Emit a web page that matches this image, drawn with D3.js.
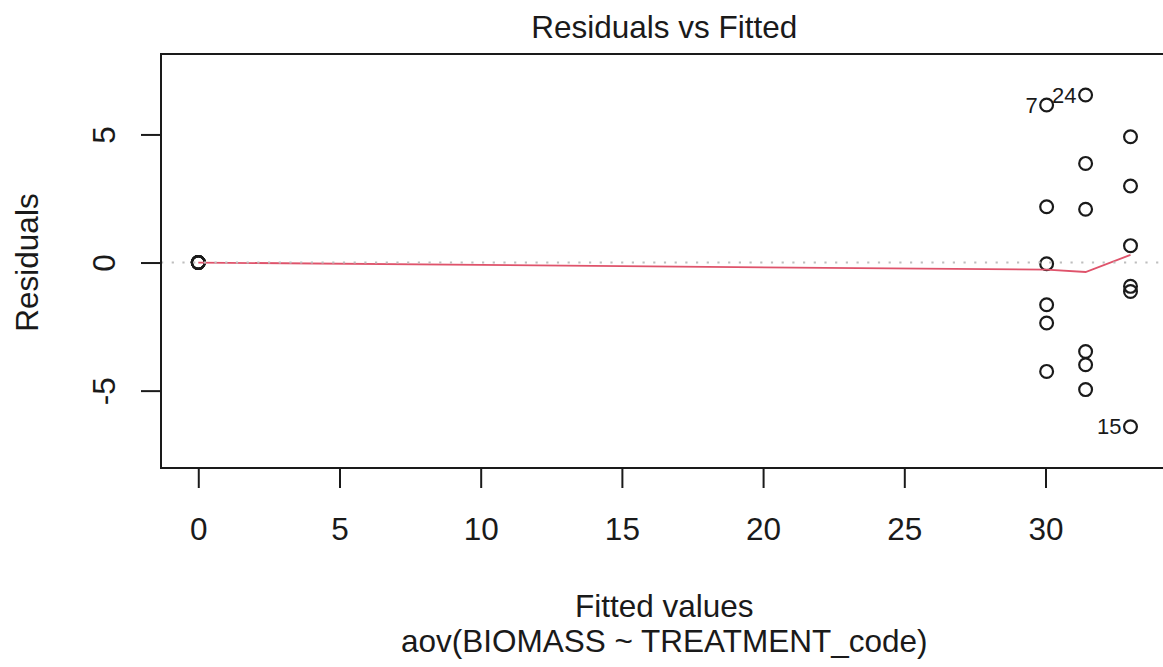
<!DOCTYPE html>
<html>
<head>
<meta charset="utf-8">
<script src="https://cdn.jsdelivr.net/npm/d3@7"></script>
<style>
  body { margin: 0; background: #fff; }
  svg { display: block; font-family: "Liberation Sans", Arial, Helvetica, sans-serif; }
</style>
</head>
<body>
<svg width="1163" height="667"></svg>
<script>
const obsIds = d3.range(1, 25);
const fitted = [
  0, 0, 0, 0, 0, 0,
  30.04, 30.04, 30.04, 30.04, 30.04, 30.04,
  33.01, 33.01, 33.01, 33.01, 33.01, 33.01,
  31.42, 31.42, 31.42, 31.42, 31.42, 31.42
];
const residuals = [
  0, 0, 0, 0, 0, 0,
  6.15, 2.18, -0.05, -1.65, -2.36, -4.25,
  4.91, 2.99, -6.41, 0.66, -0.93, -1.13,
  3.87, 2.08, -3.47, -3.99, -4.96, 6.54
];
const labelledIds = [7, 15, 24];

// lowess smoother
const smoothX = [0, 30.04, 31.42, 33.01];
const smoothY = [0, -0.28, -0.37, 0.30];

const xTicks = [0, 5, 10, 15, 20, 25, 30];
const yTicks = [-5, 0, 5];

const svg = d3.select("svg"),
    width = +svg.attr("width"),
    height = +svg.attr("height");

const plotL = 161, plotR = 1167.5, plotT = 54, plotB = 468;

const x = d3.scaleLinear().domain([-1.32, 34.32]).range([plotL, plotR]);
const y = d3.scaleLinear().domain([-8.02, 8.14]).range([plotB, plotT]);

const ink = "#1a1a1a";
const fmt = d => String(d);  // plain hyphen for negatives, like R

svg.append("defs").append("clipPath")
    .attr("id", "plotClip")
  .append("rect")
    .attr("x", plotL).attr("y", plotT)
    .attr("width", plotR - plotL).attr("height", plotB - plotT);

const data = obsIds.map((id, i) => ({id: id, fx: fitted[i], r: residuals[i]}));

// points
svg.append("g")
  .selectAll("circle")
  .data(data)
  .enter().append("circle")
    .attr("cx", d => x(d.fx))
    .attr("cy", d => y(d.r))
    .attr("r", 6.4)
    .attr("fill", "none")
    .attr("stroke", ink)
    .attr("stroke-width", 2.2);

// smoother
const smooth = smoothX.map((v, i) => [v, smoothY[i]]);
svg.append("path")
    .datum(smooth)
    .attr("fill", "none")
    .attr("stroke", "#DF536B")
    .attr("stroke-width", 1.8)
    .attr("d", d3.line().x(d => x(d[0])).y(d => y(d[1])));

// zero reference line
svg.append("line")
    .attr("clip-path", "url(#plotClip)")
    .attr("x1", plotL).attr("x2", plotR)
    .attr("y1", y(0)).attr("y2", y(0))
    .attr("stroke", "#bebebe")
    .attr("stroke-width", 2)
    .attr("stroke-dasharray", "2.2,8.5");

// id labels
svg.append("g")
  .selectAll("text")
  .data(data.filter(d => labelledIds.includes(d.id)))
  .enter().append("text")
    .attr("x", d => x(d.fx) - 9)
    .attr("y", d => y(d.r))
    .attr("dy", "0.35em")
    .attr("text-anchor", "end")
    .attr("font-size", "22px")
    .attr("fill", ink)
    .text(d => d.id);

// box
svg.append("rect")
    .attr("x", plotL).attr("y", plotT)
    .attr("width", plotR - plotL).attr("height", plotB - plotT)
    .attr("fill", "none")
    .attr("stroke", ink)
    .attr("stroke-width", 2);

// axes
const xAxis = svg.append("g")
    .attr("transform", `translate(0,${plotB})`)
    .call(d3.axisBottom(x).tickValues(xTicks).tickSize(20).tickPadding(30).tickFormat(fmt));
xAxis.select(".domain").remove();
xAxis.selectAll("line").attr("stroke", ink).attr("stroke-width", 2);
xAxis.selectAll("text")
    .attr("font-size", "31.5px")
    .attr("fill", ink);

const yAxis = svg.append("g")
    .attr("transform", `translate(${plotL},0)`)
    .call(d3.axisLeft(y).tickValues(yTicks).tickSize(20).tickFormat(fmt));
yAxis.select(".domain").remove();
yAxis.selectAll("line").attr("stroke", ink).attr("stroke-width", 2);
yAxis.selectAll("text")
    .attr("transform", "rotate(-90)")
    .attr("x", 0)
    .attr("y", -46)
    .attr("dy", 0)
    .attr("text-anchor", "middle")
    .attr("font-size", "31.5px")
    .attr("fill", ink);
xAxis.attr("font-family", null);
yAxis.attr("font-family", null);

// titles
const cx = (plotL + plotR) / 2;
svg.append("text")
    .attr("x", cx).attr("y", 38)
    .attr("text-anchor", "middle")
    .attr("font-size", "31.5px")
    .attr("fill", ink)
    .text("Residuals vs Fitted");

svg.append("text")
    .attr("x", cx).attr("y", 617)
    .attr("text-anchor", "middle")
    .attr("font-size", "31.5px")
    .attr("fill", ink)
    .text("Fitted values");

svg.append("text")
    .attr("x", cx).attr("y", 652)
    .attr("text-anchor", "middle")
    .attr("font-size", "31.5px")
    .attr("fill", ink)
    .text("aov(BIOMASS ~ TREATMENT_code)");

svg.append("text")
    .attr("transform", `translate(38,${y(0)}) rotate(-90)`)
    .attr("text-anchor", "middle")
    .attr("font-size", "31.5px")
    .attr("fill", ink)
    .text("Residuals");
</script>
</body>
</html>
